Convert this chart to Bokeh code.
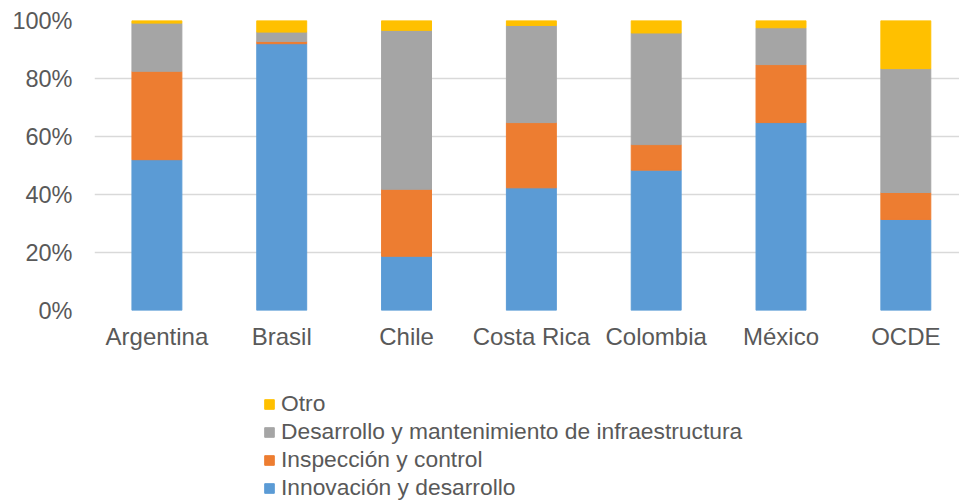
from bokeh.plotting import figure
from bokeh.layouts import column
from bokeh.models import (ColumnDataSource, Range1d, FixedTicker, NumeralTickFormatter,
                          Legend, LegendItem)
from bokeh.embed import file_html
from bokeh.resources import INLINE

categories = ["Argentina", "Brasil", "Chile", "Costa Rica", "Colombia", "México", "OCDE"]
innovacion = [52.0, 92.0, 18.7, 42.3, 48.4, 64.8, 31.4]
inspeccion = [30.5, 0.8, 23.1, 22.5, 8.8, 20.0, 9.3]
infraestructura = [16.6, 3.2, 54.8, 33.5, 38.5, 12.7, 42.7]
otro = [0.9, 4.0, 3.4, 1.7, 4.3, 2.5, 16.6]
series_names = ["Innovación y desarrollo", "Inspección y control",
                "Desarrollo y mantenimiento de infraestructura", "Otro"]
colors = ["#5B9BD5", "#ED7D31", "#A5A5A5", "#FFC000"]
y_ticks = [0, 0.2, 0.4, 0.6, 0.8, 1.0]

xs = list(range(len(categories)))
stackers = ["inno", "insp", "infra", "otro"]
src = ColumnDataSource(dict(
    x=xs,
    inno=[v / 100 for v in innovacion],
    insp=[v / 100 for v in inspeccion],
    infra=[v / 100 for v in infraestructura],
    otro=[v / 100 for v in otro],
))

FONT = "Liberation Sans"
TXT = "#595959"

p = figure(width=959, height=360, output_backend="svg", toolbar_location=None,
           x_range=Range1d(-0.5, 6.43), y_range=Range1d(0, 1),
           min_border_left=94, min_border_right=0, min_border_top=20, min_border_bottom=50)

rs = p.vbar_stack(stackers, x="x", width=0.4, color=colors, source=src)

p.outline_line_color = None
p.xgrid.grid_line_color = None
p.ygrid.grid_line_color = "#D9D9D9"
p.ygrid.grid_line_width = 1.5
p.ygrid.ticker = FixedTicker(ticks=y_ticks)

p.yaxis.ticker = FixedTicker(ticks=y_ticks)
p.yaxis.formatter = NumeralTickFormatter(format="0%")
p.xaxis.ticker = FixedTicker(ticks=xs)
p.xaxis.major_label_overrides = {i: c for i, c in enumerate(categories)}

for ax in (p.xaxis[0], p.yaxis[0]):
    ax.axis_line_color = None
    ax.major_tick_line_color = None
    ax.minor_tick_line_color = None
    ax.major_tick_out = 0
    ax.major_tick_in = 0
    ax.major_label_text_font = FONT
    ax.major_label_text_color = TXT
p.yaxis.major_label_text_font_size = "23.5px"
p.xaxis.major_label_text_font_size = "24px"
p.yaxis.major_label_standoff = 22
p.xaxis.major_label_standoff = 12

# Legend panel below the chart: its view range lies above the data, so the
# carrier renderers show no bars, only their legend swatches.
lg = figure(width=959, height=141, output_backend="svg", toolbar_location=None,
            x_range=Range1d(-0.5, 6.43), y_range=Range1d(2, 3),
            x_axis_location=None, y_axis_location=None, min_border=0)
lg.outline_line_color = None
lg.grid.visible = False
carriers = lg.vbar_stack(stackers, x="x", width=0.4, color=colors, source=src)

items = [LegendItem(label=series_names[i], renderers=[carriers[i]]) for i in (3, 2, 1, 0)]
legend = Legend(items=items, location=(169, 0), orientation="vertical",
                label_text_font=FONT, label_text_font_size="22.8px", label_text_color=TXT,
                glyph_width=12, glyph_height=12, label_standoff=6, spacing=1,
                padding=0, margin=0, border_line_color=None, background_fill_alpha=0)
lg.add_layout(legend, "center")

layout = column(p, lg, spacing=0)
open("out.html", "w").write(file_html(layout, INLINE))
